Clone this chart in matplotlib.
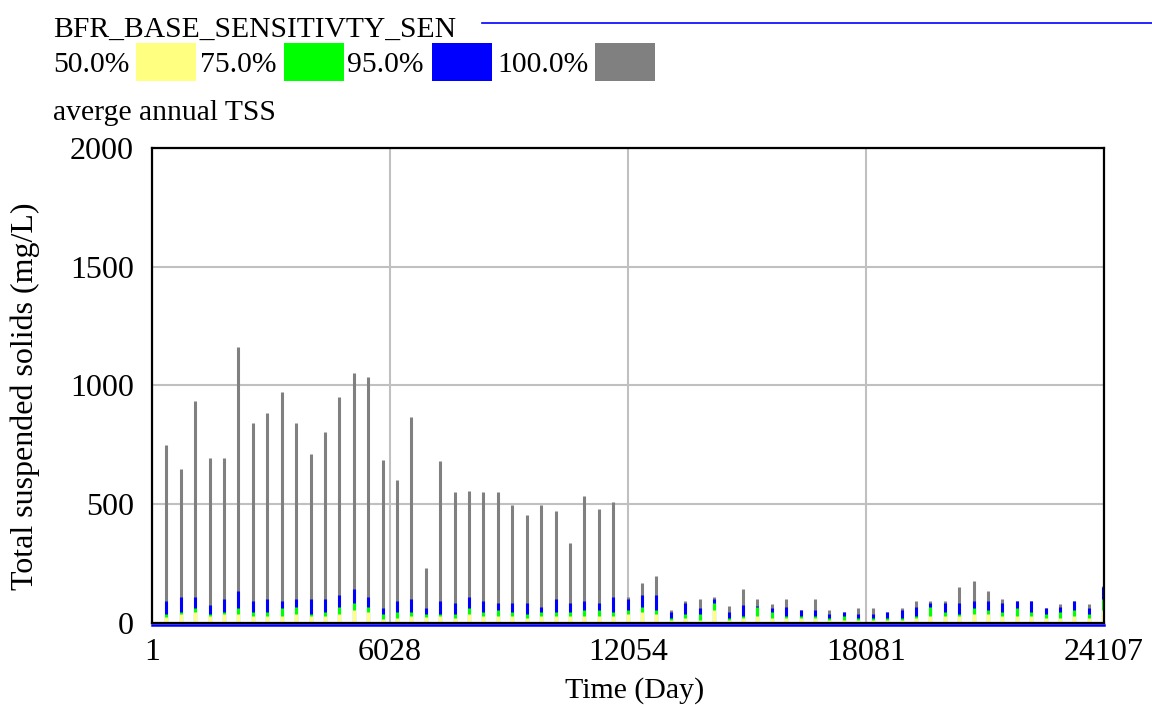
import numpy as np
import matplotlib
matplotlib.use('Agg')
import matplotlib.pyplot as plt
import matplotlib.transforms as mtransforms
from matplotlib.patches import Rectangle
from matplotlib.lines import Line2D

plt.rcParams['font.family'] = ['Liberation Serif', 'DejaVu Serif']

# ── Dados: média anual de TSS (mg/L), um pico por ano de simulação ──────────
years = np.arange(1, 67)
spike_day = years * 365          # o valor anual aparece no último dia do ano

tss_100 = [750, 645, 935, 695, 695, 1160, 840, 885, 970, 840, 710, 805, 950,
           1050, 1035, 685, 600, 865, 230, 680, 550, 555, 550, 550, 495, 455,
           495, 470, 335, 535, 480, 510, 107, 165, 195, 51, 92, 100, 107, 68,
           141, 100, 77, 100, 53, 99, 53, 43, 60, 60, 43, 60, 90, 90, 90, 148,
           173, 132, 99, 90, 90, 60, 77, 90, 77, 155]
tss_95 = [90, 107, 107, 75, 99, 131, 90, 99, 90, 99, 99, 99, 116, 141, 107,
          60, 90, 99, 60, 90, 82, 107, 90, 82, 82, 82, 67, 99, 82, 90, 82, 107,
          99, 116, 116, 43, 82, 60, 99, 43, 75, 71, 60, 67, 52, 52, 37, 43, 37,
          37, 43, 52, 67, 82, 82, 82, 90, 90, 82, 90, 90, 60, 67, 90, 60, 150]
tss_75 = [37, 43, 60, 37, 44, 60, 44, 44, 60, 67, 37, 44, 67, 82, 67, 37, 44,
          44, 37, 37, 37, 60, 43, 52, 43, 37, 43, 43, 43, 52, 52, 43, 52, 67,
          52, 19, 37, 37, 82, 19, 28, 67, 43, 28, 28, 28, 19, 28, 19, 19, 19,
          19, 28, 67, 43, 37, 60, 52, 43, 60, 43, 37, 43, 52, 37, 100]
tss_50 = [22, 35, 46, 28, 37, 35, 28, 28, 28, 37, 28, 28, 37, 52, 43, 15, 19,
          28, 22, 28, 20, 35, 28, 28, 28, 19, 28, 28, 28, 28, 28, 28, 37, 43,
          37, 10, 19, 10, 52, 10, 19, 28, 19, 19, 19, 19, 10, 10, 10, 10, 10,
          10, 19, 28, 28, 28, 37, 37, 28, 28, 28, 19, 19, 28, 19, 52]

SERIES = [('100.0%', tss_100, '#808080'),
          ('95.0%', tss_95, '#0000ff'),
          ('75.0%', tss_75, '#00ff00'),
          ('50.0%', tss_50, '#ffff80')]

X_TICKS = [1, 6028, 12054, 18081, 24107]
Y_TICKS = [0, 500, 1000, 1500, 2000]

W, H = 1152, 705
fig = plt.figure(figsize=(W / 100, H / 100), dpi=100)


def fx(px):
    return px / W


def fy(py):
    return 1 - py / H


ax = fig.add_axes([fx(152), fy(622.5), fx(1104) - fx(152), fy(148) - fy(622.5)])

# picos: cinza atrás, amarelo na frente
for z, (lbl, vals, col) in enumerate(SERIES):
    ax.vlines(spike_day, 0, vals, colors=col, lw=2.2, zorder=3 + z)

# linha base (rodada de referência) logo abaixo do eixo
off = mtransforms.ScaledTranslation(0, -2.0 / 100, fig.dpi_scale_trans)
ax.plot([X_TICKS[0], X_TICKS[-1]], [0, 0], color='#0000ff', lw=1.8,
        transform=ax.transData + off, clip_on=False, zorder=10)

ax.set_xlim(X_TICKS[0], X_TICKS[-1])
ax.set_ylim(Y_TICKS[0], Y_TICKS[-1])
ax.set_xticks(X_TICKS)
ax.set_xticklabels([str(t) for t in X_TICKS])
ax.set_yticks(Y_TICKS)
ax.tick_params(length=0, labelsize=23)
ax.tick_params(axis='y', pad=13)
ax.tick_params(axis='x', pad=11)
ax.grid(True, color='#c0c0c0', lw=1.5, zorder=1)
ax.set_axisbelow(True)
for sp in ax.spines.values():
    sp.set_linewidth(1.6)
    sp.set_zorder(11)

ax.set_xlabel('Time (Day)', fontsize=21.5)
ax.xaxis.set_label_coords(0.507, -0.116)
ax.set_ylabel('Total suspended solids (mg/L)', fontsize=23)
ax.yaxis.set_label_coords(-0.118, 0.477)

# ── Legenda no estilo Vensim ────────────────────────────────────────────────
fig.text(fx(53), fy(37), 'BFR_BASE_SENSITIVTY_SEN', fontsize=21.3, va='baseline')
fig.add_artist(Line2D([fx(482), fx(1152)], [fy(23), fy(23)], color='#0000ff', lw=1.2))

leg_text_x = [53, 200, 347, 497]
leg_box_x = [136, 284, 432, 595]
for (lbl, vals, col), tx, bx in zip(SERIES[::-1], leg_text_x, leg_box_x):
    fig.text(fx(tx), fy(72), lbl, fontsize=21.3, va='baseline')
    fig.add_artist(Rectangle((fx(bx), fy(80.7)), fx(60), fy(42.7) - fy(80.7),
                             transform=fig.transFigure, color=col, lw=0))

fig.text(fx(53), fy(120), 'averge annual TSS', fontsize=21.3, va='baseline')

fig.savefig('out.png', dpi=100)
